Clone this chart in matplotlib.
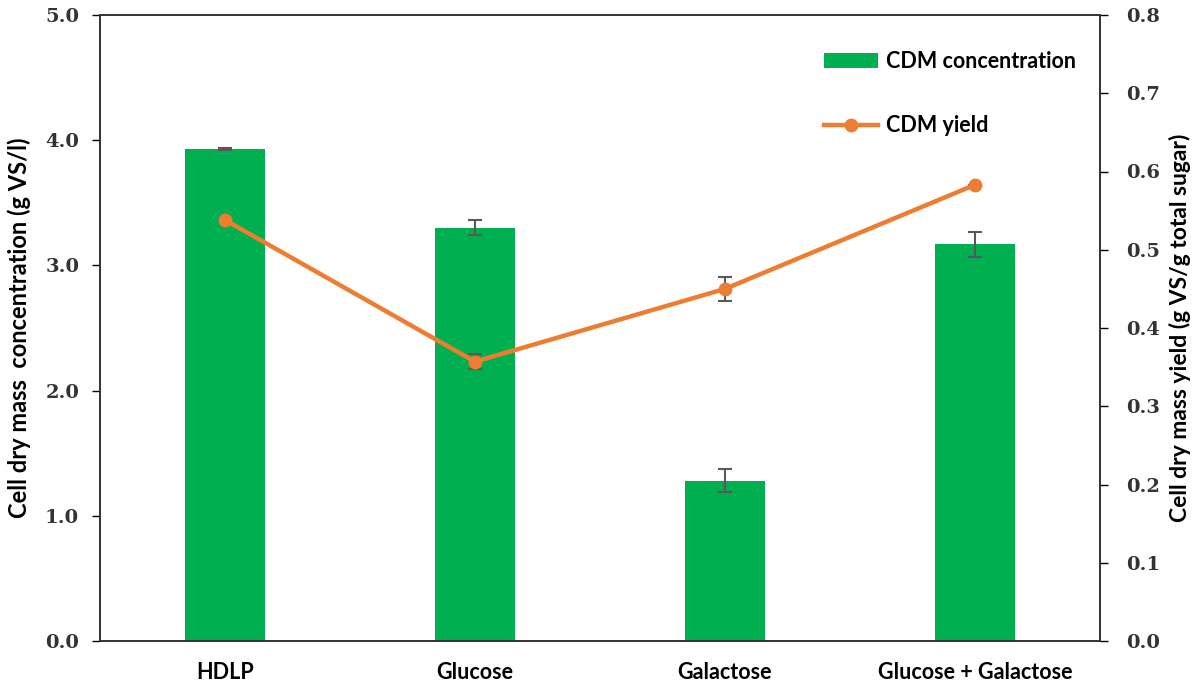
import matplotlib.pyplot as plt
import numpy as np

categories = ['HDLP', 'Glucose', 'Galactose', 'Glucose + Galactose']
cdm_conc = [3.93, 3.30, 1.28, 3.17]
cdm_conc_err = [0.01, 0.06, 0.09, 0.10]
cdm_yield = [0.538, 0.357, 0.450, 0.583]
cdm_yield_err = [0.0, 0.01, 0.015, 0.0]

green = '#00B050'
orange = '#ED7D31'
err_col = '#595959'
lab_font = 'Lato'
tick_font = 'DejaVu Serif'

fig = plt.figure(figsize=(11.97, 6.85), dpi=100)
ax = fig.add_axes([100/1197, 44/685, 1000/1197, 626/685])
ax2 = ax.twinx()

x = np.arange(len(categories))
bars = ax.bar(x, cdm_conc, width=0.32, color=green, zorder=2,
              label='CDM concentration')
ax.errorbar(x, cdm_conc, yerr=cdm_conc_err, fmt='none', ecolor=err_col,
            elinewidth=1.5, capsize=5, capthick=1.5, zorder=3)

ax2.errorbar(x, cdm_yield, yerr=cdm_yield_err, fmt='none', ecolor=err_col,
             elinewidth=1.5, capsize=5, capthick=1.5, zorder=2)
line, = ax2.plot(x, cdm_yield, color=orange, lw=3.2, marker='o', ms=9,
                 zorder=3, label='CDM yield')

ax.set_xlim(-0.5, 3.5)
ax.set_ylim(0, 5)
ax2.set_ylim(0, 0.8)
ax.set_yticks(np.arange(0, 5.01, 1.0))
ax2.set_yticks(np.arange(0, 0.81, 0.1))
ax.set_yticklabels(['%.1f' % v for v in np.arange(0, 5.01, 1.0)])
ax2.set_yticklabels(['%.1f' % v for v in np.arange(0, 0.81, 0.1)])
ax.set_xticks(x)
ax.set_xticklabels(categories, fontfamily=lab_font, fontweight='bold', fontsize=15.5)
ax.tick_params(axis='x', length=0, pad=15)

for a in (ax, ax2):
    a.tick_params(axis='y', length=6, width=1, labelsize=14)
    for lbl in a.get_yticklabels():
        lbl.set_fontfamily(tick_font)
        lbl.set_fontweight('bold')
        lbl.set_color('#333333')
    for s in a.spines.values():
        s.set_linewidth(1.2)
        s.set_color('#333333')
ax.tick_params(axis='y', pad=9)
ax2.tick_params(axis='y', pad=13)

ax.set_ylabel('Cell dry mass  concentration (g VS/l)', fontfamily=lab_font,
              fontweight='bold', fontsize=17, labelpad=10)
ax2.set_ylabel('Cell dry mass yield (g VS/g total sugar)', fontfamily=lab_font,
               fontweight='bold', fontsize=16.5, labelpad=6)

leg = ax2.legend([bars, line], ['CDM concentration', 'CDM yield'],
                 loc='upper right', bbox_to_anchor=(0.995, 0.973), frameon=False,
                 labelspacing=2.0, handlelength=2.5, handletextpad=0.35,
                 prop={'family': lab_font, 'weight': 'bold', 'size': 15.5})

fig.savefig('out.png', dpi=100)
